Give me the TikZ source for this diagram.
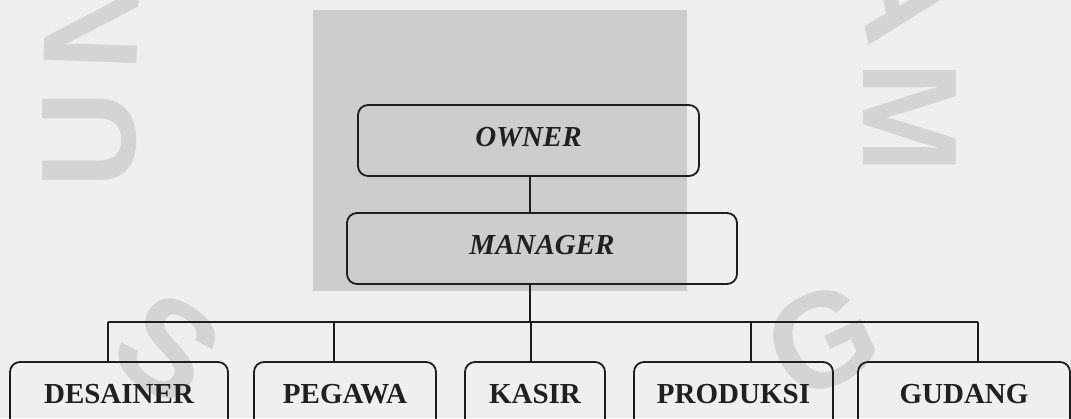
\documentclass[tikz,border=0pt]{standalone}
\usepackage{fontspec}
\setmainfont{Liberation Serif}
\newfontfamily\wmfont{Liberation Sans}
\definecolor{paper}{RGB}{239,239,239}
\definecolor{panel}{RGB}{205,205,205}
\definecolor{wmc}{RGB}{212,212,212}
\definecolor{linec}{RGB}{30,30,30}
\definecolor{textc}{RGB}{32,32,32}
\begin{document}
\begin{tikzpicture}[x=1pt,y=-1pt,
  box/.style={draw=linec, line width=1.8pt, rounded corners=10pt,
    minimum height=71pt, inner sep=0pt, text height=20pt, text depth=8pt,
    text=textc, font=\fontsize{29}{32}\selectfont\bfseries},
  headbox/.style={box, font=\fontsize{29}{32}\selectfont\bfseries\itshape},
  link/.style={draw=linec, line width=1.8pt},
  wm/.style={text=wmc, inner sep=0pt,
    font=\wmfont\fontsize{135}{135}\selectfont\bfseries}]
\useasboundingbox (0,0) rectangle (1071,418);
\clip (0,0) rectangle (1071,418);
\fill[paper] (0,0) rectangle (1071,418);

% faint ring lettering in the background
\node[wm, rotate=90] (wmU) at (90,140) {U};
\node[wm, rotate=88] (wmN) at (92,22) {N};
\node[wm, rotate=-78] (wmA) at (905,-8) {A};
\node[wm, rotate=-90] (wmM) at (910,118) {M};
\node[wm, rotate=-35] (wmS) at (168,348) {S};
\node[wm, rotate=25] (wmG) at (822,340) {G};

% grey panel behind the top of the chart
\fill[panel] (313,10) rectangle (687,291);

% boxes
\node[headbox, minimum width=341pt] (owner) at (528.5,140.5) {OWNER};
\node[headbox, minimum width=390pt] (manager) at (542,248.5) {MANAGER};

\node[box, minimum width=218pt] (desainer) at (119,397.5) {DESAINER};
\node[box, minimum width=182pt] (pegawa) at (345,397.5) {PEGAWA};
\node[box, minimum width=140pt] (kasir) at (535,397.5) {KASIR};
\node[box, minimum width=199pt] (produksi) at (733.5,397.5) {PRODUKSI};
\node[box, minimum width=212pt] (gudang) at (964,397.5) {GUDANG};

% connectors
\coordinate (spine) at (530,322);
\coordinate (d1) at (108,322);
\coordinate (d2) at (334,322);
\coordinate (d3) at (531,322);
\coordinate (d4) at (751,322);
\coordinate (d5) at (978,322);

\draw[link] (spine |- owner.south) -- (spine |- manager.north);
\draw[link] (spine |- manager.south) -- (spine);
\draw[link] (d1) -- (d5);
\draw[link] (d1) -- (d1 |- desainer.north);
\draw[link] (d2) -- (d2 |- pegawa.north);
\draw[link] (d3) -- (d3 |- kasir.north);
\draw[link] (d4) -- (d4 |- produksi.north);
\draw[link] (d5) -- (d5 |- gudang.north);
\end{tikzpicture}
\end{document}
